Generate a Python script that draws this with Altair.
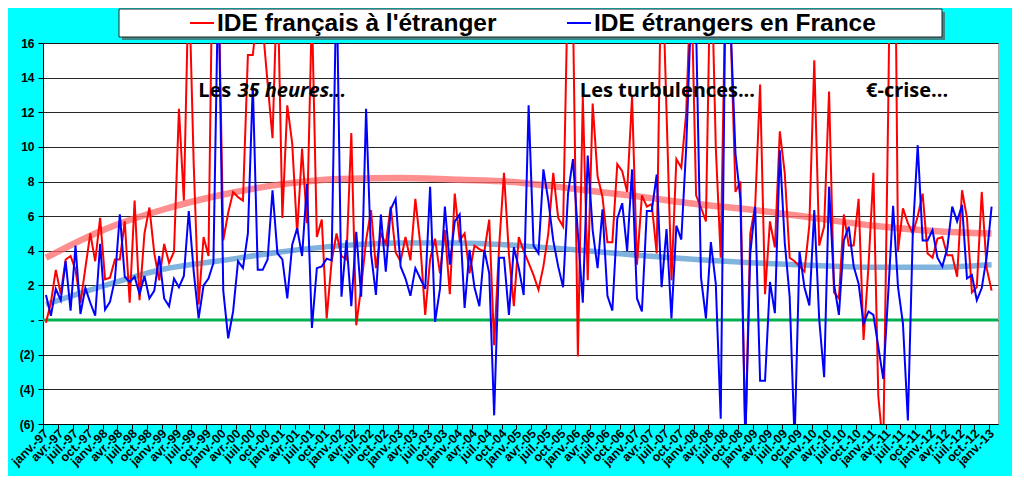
import json
import altair as alt
import pandas as pd

# ---------------- data ----------------
MONTHS = ["janv.", "avr.", "juil.", "oct."]
YEARS = list(range(1997, 2014))
TICK_LABELS = [f"{m}-{str(y)[2:]}" for y in YEARS[:-1] for m in MONTHS] + [f"janv.-{str(YEARS[-1])[2:]}"]

SERIES_NAMES = ["IDE français à l'étranger", "IDE étrangers en France"]

# IDE français à l'étranger (monthly, janv-97 .. janv-13)
IDE_FR = [
    -0.15, 1.0, 2.9, 1.5, 3.5, 3.7, 2.9, 1.0, 3.0, 5.0,
    3.4, 5.9, 2.35, 2.45, 3.5, 3.5, 5.7, 1.0, 6.9, 1.15,
    5.0, 6.5, 3.85, 2.3, 4.4, 3.3, 3.95, 12.2, 6.9, 20,
    9, 0.9, 4.8, 3.7, 25, 20, 4.6, 6.2, 7.4, 7.1,
    6.9, 15.3, 15.3, 18, 17, 13.7, 10.5, 20, 5.9, 12.4,
    10.2, 5.0, 9.9, 5.6, 18, 4.8, 5.8, 0.1, 3.4, 5.0,
    3.7, 3.5, 10.8, -0.3, 1.9, 4.6, 6.35, 3.0, 5.0, 4.4,
    6.55, 3.9, 3.4, 4.8, 3.45, 7.0, 4.4, 0.3, 3.5, 4.7,
    2.7, 5.2, 1.5, 7.3, 4.6, 5.0, 2.7, 4.3, 4.1, 3.95,
    5.8, -1.45, 4.2, 8.5, 3.8, 0.8, 4.8, 4.0, 3.3, 2.6,
    1.75, 3.1, 5.0, 8.5, 5.9, 5.4, 20, 18, -2.1, 12.9,
    2.3, 12.5, 8.3, 7.1, 4.5, 4.5, 9.0, 8.6, 7.4, 12.9,
    3.2, 7.2, 6.55, 6.7, 3.85, 22, 12, 2.3, 9.3, 8.8,
    12, 20, 7.2, 6.5, 5.7, 22, 10, 3.6, 20, 17,
    7.4, 8.0, -7, 5.0, 6.6, 13.6, 1.5, 5.7, 4.2, 10.9,
    8.5, 3.6, 3.4, 3.1, 2.8, 5.5, 15.0, 4.3, 5.4, 13.2,
    1.6, 1.25, 6.1, 4.3, 4.3, 7.0, -1.15, 3.1, 8.5, -4.4,
    -7.5, 12, 35, 4.0, 6.45, 5.6, 5.0, 6.0, 7.3, 3.85,
    3.6, 4.7, 4.8, 3.75, 3.75, 2.5, 7.5, 5.9, 1.6, 1.9,
    7.4, 3.0, 1.7,
]

# IDE étrangers en France
IDE_ET = [
    1.45, 0.25, 1.8, 1.15, 3.4, 0.55, 4.3, 0.35, 1.85, 1.0,
    0.25, 4.4, 0.6, 1.05, 2.35, 6.1, 2.5, 2.2, 2.5, 1.5,
    2.55, 1.25, 1.7, 3.7, 1.25, 0.8, 2.4, 1.9, 2.55, 6.3,
    2.8, 0.1, 2.0, 2.4, 3.3, 20, 1.7, -1.05, 0.5, 3.4,
    3.0, 5.0, 13.6, 2.9, 2.9, 3.5, 7.5, 3.85, 3.5, 1.25,
    4.35, 5.3, 3.7, 7.85, -0.45, 3.0, 3.1, 3.55, 3.45, 20,
    1.35, 4.6, 0.8, 5.1, 1.35, 12.2, 3.85, 1.45, 6.1, 2.8,
    6.4, 7.0, 3.1, 2.4, 1.4, 3.0, 2.4, 1.8, 7.7, -0.1,
    1.8, 6.55, 3.2, 5.7, 6.1, 0.7, 4.05, 1.9, 0.8, 4.05,
    2.7, -5.5, 3.6, 3.6, 0.3, 4.2, 3.0, 1.45, 12.4, 4.3,
    3.85, 8.7, 6.9, 4.6, 3.1, 1.9, 7.3, 9.3, 5.0, 1.0,
    9.5, 5.2, 3.0, 6.4, 1.4, 0.55, 5.85, 6.75, 4.0, 8.7,
    1.25, 0.5, 6.3, 6.3, 8.4, 1.9, 5.25, 0.1, 5.45, 4.65,
    10, 18, 17, 2.45, 0.1, 4.5, 2.1, -5.7, 20, 17,
    9.6, 7.0, -7, 3.85, 6.55, -3.5, -3.5, 2.2, 0.4, 9.8,
    4.5, 1.35, -7, 3.95, 1.9, 0.85, 6.35, 0.05, -3.3, 7.7,
    2.1, 0.3, 4.6, 5.4, 3.1, 2.1, -0.2, 0.5, 0.3, -1.55,
    -3.4, 1.5, 6.6, 1.9, -0.2, -5.8, 5.0, 10.1, 4.6, 4.6,
    5.2, 3.6, 3.1, 4.15, 6.55, 5.7, 6.65, 2.4, 2.6, 1.15,
    1.85, 3.65, 6.55,
]

# trend curves read every 12 months
TREND_IDX = list(range(0, 193, 12))
TREND_FR = [3.6, 5.25, 6.4, 7.25, 7.85, 8.15, 8.2, 8.1, 7.95, 7.55, 7.15, 6.7, 6.35, 5.9, 5.45, 5.15, 5.0]
TREND_ET = [0.9, 2.0, 2.95, 3.45, 3.95, 4.3, 4.45, 4.45, 4.3, 4.05, 3.75, 3.5, 3.3, 3.15, 3.05, 3.05, 3.2]

NOTES = ["Les", "Les turbulences...", "€-crise..."]
NOTES_IT = ["35 heures..."]
NOTE_X = [30.9, 108.4, 166.5]
NOTE_IT_X = [38.9]
NOTE_Y = 13.2

# ---------------- frames ----------------
n = len(IDE_FR)
df_fr = pd.DataFrame({"i": list(range(n)), "v": IDE_FR})
df_et = pd.DataFrame({"i": list(range(len(IDE_ET))), "v": IDE_ET})
tr_fr = pd.DataFrame({"i": TREND_IDX, "v": TREND_FR})
tr_et = pd.DataFrame({"i": TREND_IDX, "v": TREND_ET})
zero = pd.DataFrame({"v": [0]})
notes = pd.DataFrame({"i": NOTE_X, "v": [NOTE_Y] * len(NOTE_X), "t": NOTES})
notes_it = pd.DataFrame({"i": NOTE_IT_X, "v": [NOTE_Y], "t": NOTES_IT})
one = pd.DataFrame({"k": [0]})

FONT = "Liberation Sans"
NOTE_FONT = "Open Sans"
label_js = json.dumps(TICK_LABELS, ensure_ascii=False)

X = alt.X(
    "i:Q",
    scale=alt.Scale(domain=[-0.6, 193.3], nice=False, zero=False),
    axis=alt.Axis(
        values=list(range(0, 193, 3)),
        labelExpr=f"{label_js}[round(datum.value/3)]",
        labelAngle=-45,
        labelAlign="right",
        labelBaseline="middle",
        labelFont=FONT,
        labelFontWeight="bold",
        labelFontSize=12.5,
        labelColor="#000",
        labelPadding=2,
        labelOverlap=False,
        labelOffset=2.5,
        tickOffset=-2.5,
        tickColor="#000",
        tickSize=5,
        domainColor="#000",
        grid=False,
        title=None,
    ),
)
Y = alt.Y(
    "v:Q",
    scale=alt.Scale(domain=[-6, 16], nice=False, zero=False),
    axis=alt.Axis(
        values=list(range(-6, 17, 2)),
        labelExpr="datum.value == 0 ? '-' : (datum.value < 0 ? '(' + abs(datum.value) + ')' : '' + datum.value)",
        labelFont=FONT,
        labelFontWeight="bold",
        labelFontSize=12,
        labelColor="#000",
        labelPadding=4,
        tickColor="#000",
        tickSize=5,
        domainColor="#000",
        grid=True,
        gridColor="#000",
        gridWidth=1,
        gridOpacity=0.85,
        title=None,
    ),
)

zero_line = alt.Chart(zero).mark_rule(color="#00b050", strokeWidth=3).encode(y=Y)
trend_fr = alt.Chart(tr_fr).mark_line(color="#ff6a6a", strokeWidth=6.5, opacity=0.75,
                                      interpolate="monotone", clip=True).encode(x=X, y=Y)
trend_et = alt.Chart(tr_et).mark_line(color="#6aa6d8", strokeWidth=5.5, opacity=0.85,
                                      interpolate="monotone", clip=True).encode(x=X, y=Y)
line_fr = alt.Chart(df_fr).mark_line(color="#ff0000", strokeWidth=2, clip=True).encode(x=X, y=Y)
line_et = alt.Chart(df_et).mark_line(color="#0000ff", strokeWidth=2, clip=True).encode(x=X, y=Y)

note_txt = alt.Chart(notes).mark_text(align="left", baseline="middle", font=NOTE_FONT,
                                      fontWeight="bold", fontSize=20, color="#000").encode(x=X, y=Y, text="t:N")
note_it = alt.Chart(notes_it).mark_text(align="left", baseline="middle", font=NOTE_FONT,
                                        fontWeight="bold", fontStyle="italic", fontSize=20,
                                        color="#000").encode(x=X, y=Y, text="t:N")

# legend box
shadow = alt.Chart(one).mark_rect(color="#555", opacity=0.7).encode(
    x=alt.value(79), x2=alt.value(902), y=alt.value(-31), y2=alt.value(-3))
box = alt.Chart(one).mark_rect(fill="white", stroke="#222", strokeWidth=1).encode(
    x=alt.value(76), x2=alt.value(899), y=alt.value(-34), y2=alt.value(-6))
sym_fr = alt.Chart(one).mark_rule(color="#ff0000", strokeWidth=2).encode(
    x=alt.value(147), x2=alt.value(171), y=alt.value(-20))
sym_et = alt.Chart(one).mark_rule(color="#0000ff", strokeWidth=2).encode(
    x=alt.value(524), x2=alt.value(548), y=alt.value(-20))
txt_fr = alt.Chart(one).mark_text(align="left", baseline="middle", font=FONT, fontWeight="bold",
                                  fontSize=24.5, color="#000").encode(
    x=alt.value(174), y=alt.value(-19), text=alt.value(SERIES_NAMES[0]))
txt_et = alt.Chart(one).mark_text(align="left", baseline="middle", font=FONT, fontWeight="bold",
                                  fontSize=24.5, color="#000").encode(
    x=alt.value(551), y=alt.value(-19), text=alt.value(SERIES_NAMES[1]))

chart = alt.layer(
    zero_line, trend_fr, trend_et, line_fr, line_et, note_txt, note_it,
    shadow, box, sym_fr, sym_et, txt_fr, txt_et,
).properties(
    width=955,
    height=381,
    padding={"left": 35, "top": 35, "right": 14, "bottom": 52},
    autosize=alt.AutoSizeParams(type="none"),
).configure(
    background="#00ffff",
).configure_view(
    fill="white",
    stroke="#aaa",
    strokeWidth=1,
)

chart.save("out.html", embed_options={"renderer": "svg", "actions": False})
